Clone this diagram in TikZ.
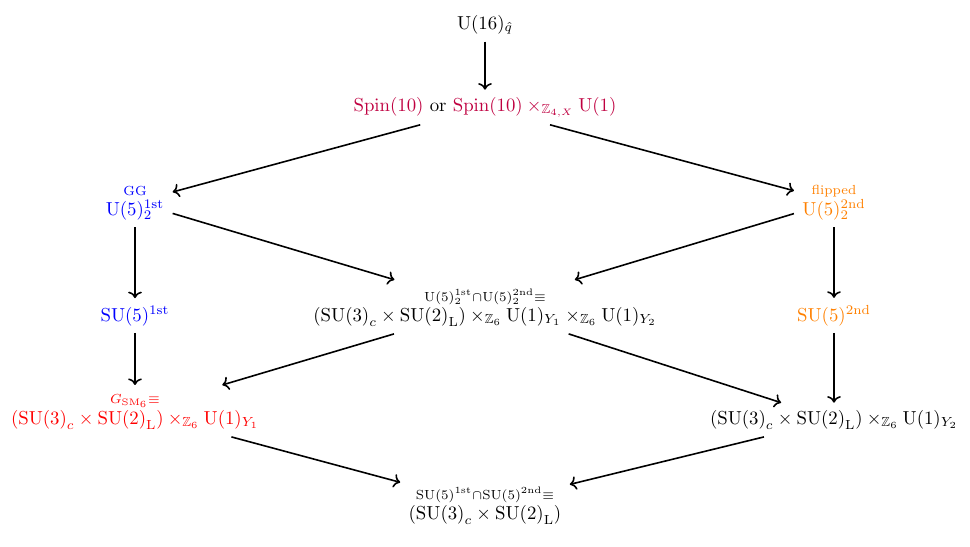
\documentclass[tikz,border=0pt]{standalone}
\usepackage{amsmath,amssymb}
\usetikzlibrary{arrows.meta}
\definecolor{spinc}{rgb}{0.75,0,0.25}
\definecolor{orng}{rgb}{1,0.5,0}
\newcommand{\SUc}{{\mathrm{SU}(3)}_c\times{\mathrm{SU}(2)}_{\mathrm{L}}}
\begin{document}
\begin{tikzpicture}[x=0.532pt,y=-0.532pt,
  cell/.style={inner xsep=1ex,inner ysep=0.85ex,anchor=base},
  arr/.style={line width=0.85pt,-{Computer Modern Rightarrow}}]
\useasboundingbox (0,0) rectangle (970,546);
\node[cell] (u16) at (485,29) {$\mathrm{U}(16)_{\hat q}$};
\node[cell] (spin) at (485,111) {$\textcolor{spinc}{\mathrm{Spin}(10)}$ or $\textcolor{spinc}{\mathrm{Spin}(10)\times_{\mathbb{Z}_{4,X}}\mathrm{U}(1)}$};
\node[cell,text=blue] (gg) at (135,215) {$\overset{\text{GG}}{\mathrm{U}(5)^{\text{1st}}_2}$};
\node[cell,text=orng] (fl) at (834,215) {$\overset{\text{flipped}}{\mathrm{U}(5)^{\text{2nd}}_2}$};
\node[cell] (mid) at (485,321) {$\overset{\mathrm{U}(5)^{\text{1st}}_2\cap\mathrm{U}(5)^{\text{2nd}}_2\equiv}{(\SUc)\times_{\mathbb{Z}_6}\mathrm{U}(1)_{Y_1}\times_{\mathbb{Z}_6}\mathrm{U}(1)_{Y_2}}$};
\node[cell,text=blue] (sua) at (135,321) {$\mathrm{SU}(5)^{\text{1st}}$};
\node[cell,text=orng] (sub) at (834,321) {$\mathrm{SU}(5)^{\text{2nd}}$};
\node[cell,text=red] (gsm) at (135,424) {$\overset{G_{\mathrm{SM}_6}\equiv}{(\SUc)\times_{\mathbb{Z}_6}\mathrm{U}(1)_{Y_1}}$};
\node[cell] (rt) at (834,424) {$(\SUc)\times_{\mathbb{Z}_6}\mathrm{U}(1)_{Y_2}$};
\node[cell] (bot) at (485,519) {$\overset{\mathrm{SU}(5)^{\text{1st}}\cap\mathrm{SU}(5)^{\text{2nd}}\equiv}{(\SUc)}$};
\draw[arr] (u16) -- (spin);
\draw[arr] (spin) -- (gg);
\draw[arr] (spin) -- (fl);
\draw[arr] (gg) -- (mid);
\draw[arr] (fl) -- (mid);
\draw[arr] (gg) -- (sua);
\draw[arr] (fl) -- (sub);
\draw[arr] (sua) -- (gsm);
\draw[arr] (mid) -- (gsm);
\draw[arr] (mid) -- (rt);
\draw[arr] (sub) -- (rt);
\draw[arr] (gsm) -- (bot);
\draw[arr] (rt) -- (bot);
\end{tikzpicture}
\end{document}
